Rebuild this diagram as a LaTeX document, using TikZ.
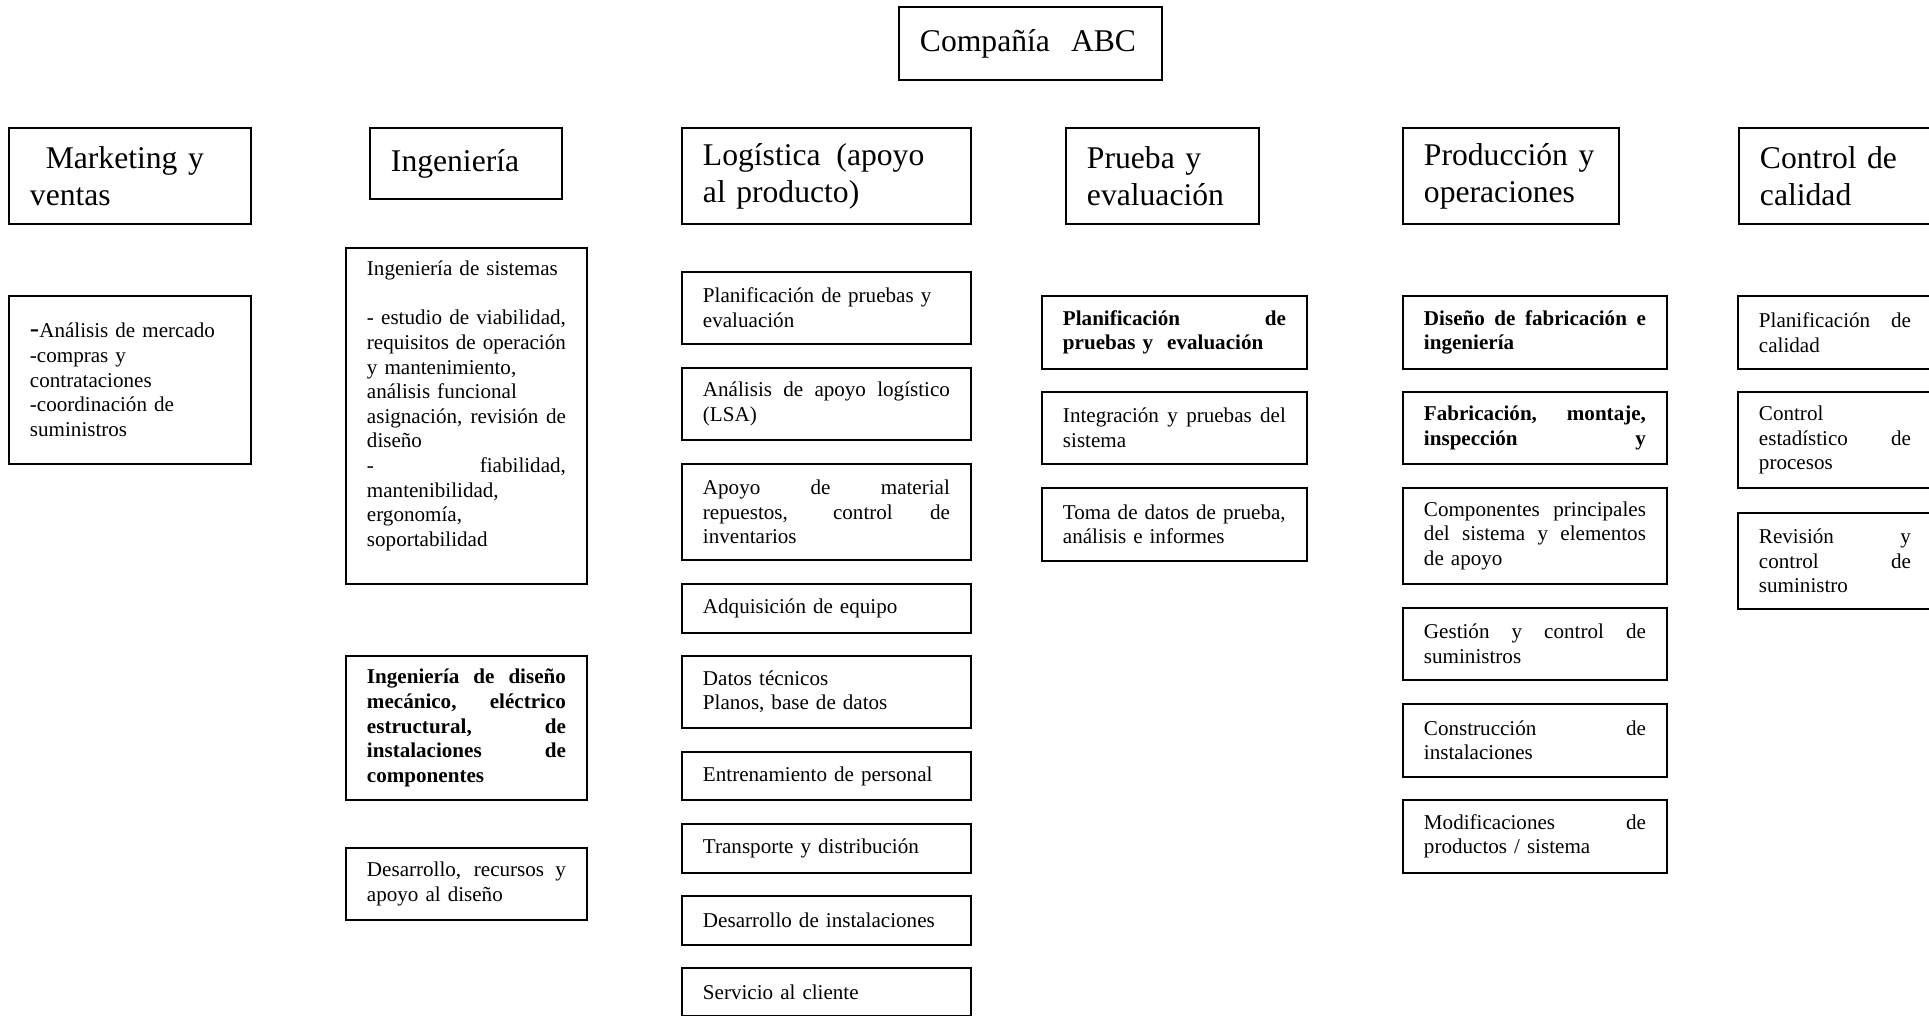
\documentclass[tikz,border=0pt]{standalone}
\usepackage{fontspec}
\setmainfont{Liberation Serif}
\usepackage{tikz}
\setlength{\parindent}{0pt}
\newcommand{\colw}{4cm}
\newcommand{\jline}[1]{{\spaceskip=0pt\xspaceskip=0pt\makebox[\colw][s]{#1}}}

\begin{document}
\begin{tikzpicture}[x=0.02cm,y=-0.02cm,
  box/.style={draw,line width=1.1pt,anchor=north west,inner xsep=0.42cm,inner ysep=0pt},
  head/.style={box,font=\fontsize{18}{21}\selectfont,minimum height=#1},
  head/.default=1.92cm,
  sub/.style={box,font=\fontsize{12}{14}\selectfont,minimum height=#1},
  sub/.default=1.44cm,
  bsub/.style={sub=#1,font=\fontsize{12}{14}\selectfont\bfseries},
  bsub/.default=1.44cm,
  col/.style={text width=#1,/utils/exec=\renewcommand{\colw}{#1}},
  mktcol/.style={col=4cm},
  ingcol/.style={col=3.98cm},
  logcol/.style={col=4.94cm},
  prucol/.style={col=4.46cm},
  procol/.style={col=4.44cm},
  calcol/.style={col=3.04cm}]
\useasboundingbox (0,0) rectangle (1929,1016);
\clip (0,0) rectangle (1929,1016);
% top
\node[head=1.46cm,text width=4.42cm] (abc) at (898,6) {Compañía\ \ ABC};
% departments
\node[head,mktcol] (mkt) at (8,127) {\hspace*{9pt}Marketing y\\ventas};
\node[head=1.42cm,text width=3cm] (ing) at (369,127) {Ingeniería};
\node[head,logcol] (log) at (681,127) {Logística\hspace{0.5em}(apoyo\\al producto)};
\node[head,text width=3.02cm] (pru) at (1065,127) {Prueba y\\evaluación};
\node[head,text width=3.48cm] (pro) at (1402,127) {Producción y\\operaciones};
\node[head,calcol] (cal) at (1738,127) {Control de\\calidad};
% marketing
\node[sub=3.36cm,mktcol] (mkt1) at (8,295) {{\fontsize{16}{14}\selectfont -}Análisis de mercado\\-compras y\\contrataciones\\-coordinación de\\suministros};
% ingenieria
\node[sub=6.72cm,ingcol] (ing1) at (345,247) {Ingeniería de sistemas\\ ~\\\jline{- estudio de viabilidad,}\\\jline{requisitos de operación}\\y mantenimiento,\\análisis funcional\\\jline{asignación, revisión de}\\diseño\\\jline{- fiabilidad,}\\mantenibilidad,\\ergonomía,\\soportabilidad\\ ~};
\node[bsub=2.88cm,ingcol] (ing2) at (345,655) {\jline{Ingeniería de diseño}\\\jline{mecánico, eléctrico}\\\jline{estructural, de}\\\jline{instalaciones de}\\componentes};
\node[sub,ingcol] (ing3) at (345,847) {\jline{Desarrollo, recursos y}\\apoyo al diseño};
% logistica
\node[sub,logcol] (log1) at (681,271) {Planificación de pruebas y\\evaluación};
\node[sub,logcol] (log2) at (681,367) {\jline{Análisis de apoyo logístico}\\(LSA)};
\node[sub=1.92cm,logcol] (log3) at (681,463) {\jline{Apoyo de material}\\\jline{repuestos, control de}\\inventarios};
\node[sub=0.98cm,logcol] (log4) at (681,583) {Adquisición de equipo};
\node[sub,logcol] (log5) at (681,655) {Datos técnicos\\Planos, base de datos};
\node[sub=0.96cm,logcol] (log6) at (681,751) {Entrenamiento de personal};
\node[sub=0.98cm,logcol] (log7) at (681,823) {Transporte y distribución};
\node[sub=0.98cm,logcol] (log8) at (681,895) {Desarrollo de instalaciones};
\node[sub=0.96cm,logcol] (log9) at (681,967) {Servicio al cliente};
% prueba
\node[bsub=1.46cm,prucol] (pru1) at (1041,295) {\jline{Planificación de}\\pruebas y\ \ evaluación};
\node[sub,prucol] (pru2) at (1041,391) {\jline{Integración y pruebas del}\\sistema};
\node[sub=1.46cm,prucol] (pru3) at (1041,487) {Toma de datos de prueba,\\análisis e informes};
% produccion
\node[bsub=1.46cm,procol] (pro1) at (1402,295) {\jline{Diseño de fabricación e}\\ingeniería};
\node[bsub,procol] (pro2) at (1402,391) {\jline{Fabricación, montaje,}\\\jline{inspección y}};
\node[sub=1.92cm,procol] (pro3) at (1402,487) {\jline{Componentes principales}\\\jline{del sistema y elementos}\\de apoyo};
\node[sub,procol] (pro4) at (1402,607) {\jline{Gestión y control de}\\suministros};
\node[sub=1.46cm,procol] (pro5) at (1402,703) {\jline{Construcción de}\\instalaciones};
\node[sub=1.46cm,procol] (pro6) at (1402,799) {\jline{Modificaciones de}\\productos / sistema};
% calidad
\node[sub=1.46cm,calcol] (cal1) at (1737,295) {\jline{Planificación de}\\calidad};
\node[sub=1.92cm,calcol] (cal2) at (1737,391) {Control\\\jline{estadístico de}\\procesos};
\node[sub=1.92cm,calcol] (cal3) at (1737,512) {\jline{Revisión y}\\\jline{control de}\\suministro};
\end{tikzpicture}
\end{document}
